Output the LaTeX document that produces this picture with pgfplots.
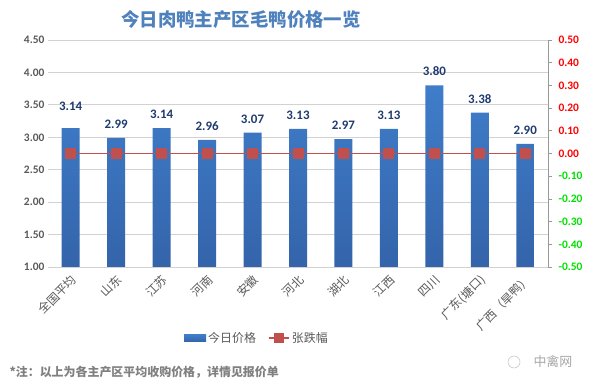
\documentclass[border=0pt]{standalone}
\usepackage{pgfplots}
\usepackage{pgfplotstable}
\pgfplotsset{compat=1.18}
\usepackage{fontspec}
\setmainfont{Carlito}
\newfontfamily\cjk{Noto Sans CJK SC}
\definecolor{barblue}{HTML}{3A72BF}
\definecolor{bartop}{HTML}{3F7DCA}
\definecolor{barbot}{HTML}{3464AA}
\definecolor{linered}{HTML}{C0504D}
\definecolor{titleblue}{HTML}{4F81BD}
\definecolor{lblnavy}{HTML}{1F3B70}
\definecolor{tickgray}{HTML}{595959}
\definecolor{neggreen}{HTML}{00E000}
\pgfplotstableread{
x y dy
0 3.14 14
1 2.99 6
2 3.14 6
3 2.96 6
4 3.07 6
5 3.13 6
6 2.97 6
7 3.13 6
8 3.80 6
9 3.38 6
10 2.90 6
}\prices
\begin{document}
\begin{tikzpicture}
\path[use as bounding box] (0,0) rectangle (590bp,389bp);
% bars + left axis + legend
\begin{axis}[
  at={(48bp,122bp)}, anchor=south west,
  scale only axis, width=500bp, height=227bp,
  xmin=-0.5, xmax=10.5, ymin=1, ymax=4.5,
  ytick={1,1.5,...,4.5},
  xtick={0,...,10},
  xticklabels={全国平均,山东,江苏,河南,安徽,河北,湖北,江西,四川,广东(塘口),广西（旱鸭）},
  xticklabel style={rotate=45, anchor=east, font=\cjk\fontsize{12}{12}\selectfont, text=tickgray, inner sep=1bp, yshift=-7bp, xshift=-1bp},
  yticklabel style={font=\bfseries\fontsize{11.5}{12}\selectfont, text=tickgray, /pgf/number format/fixed, /pgf/number format/fixed zerofill, /pgf/number format/precision=2, /pgf/number format/assume math mode=true},
  ymajorgrids, grid style={draw=gray!35, line width=0.8pt},
  axis line style={draw=none},
  major tick style={draw=none},
  ybar, bar width=18bp,
  nodes near coords,
  visualization depends on={\thisrow{dy} \as \dy},
  every node near coord/.append style={font=\bfseries\fontsize{13}{13}\selectfont, text=lblnavy, /pgf/number format/fixed, /pgf/number format/fixed zerofill, /pgf/number format/precision=2, /pgf/number format/assume math mode=true, yshift=\dy bp},
  legend columns=2,
  legend style={at={(0.418,-0.313)}, anchor=center, draw=none, fill=none, font=\cjk\fontsize{12}{12}\selectfont, text=tickgray, /tikz/every even column/.append style={column sep=10bp}},
  legend cell align=left,
  clip=false,
]
\addplot[top color=bartop, bottom color=barbot, draw=none, legend image code/.code={\fill[barblue] (0bp,-3.5bp) rectangle (22bp,3.5bp);}] table[x=x, y=y] {\prices};
\addlegendentry{今日价格}
\addlegendimage{legend image code/.code={\draw[linered, line width=2pt] (0bp,0bp) -- (20bp,0bp); \fill[linered] (5.5bp,-4.5bp) rectangle (14.5bp,4.5bp);}}
\addlegendentry{张跌幅}
\end{axis}
% line on secondary scale, no text in this axis
\begin{axis}[
  at={(48bp,122bp)}, anchor=south west,
  scale only axis, width=500bp, height=227bp,
  xmin=-0.5, xmax=10.5, ymin=-0.5, ymax=0.5,
  axis lines=none, xtick=\empty, ytick=\empty,
  clip=false,
]
\addplot[color=linered, line width=2pt, sharp plot, mark=square*, mark size=4.5bp, mark options={fill=linered, draw=linered, solid}] coordinates {
(0,0) (1,0) (2,0) (3,0) (4,0) (5,0) (6,0) (7,0) (8,0) (9,0) (10,0)};
\end{axis}
% right axis with coloured labels
\begin{axis}[
  at={(48bp,122bp)}, anchor=south west,
  scale only axis, width=500bp, height=227bp,
  xmin=-0.5, xmax=10.5, ymin=-0.5, ymax=0.5,
  xtick=\empty,
  ytick pos=right, yticklabel pos=right,
  axis line style={draw=none},
  ytick={-0.5,-0.4,-0.3,-0.2,-0.1,0,0.1,0.2,0.3,0.4,0.5},
  yticklabels={\textcolor{neggreen}{-0.50},\textcolor{neggreen}{-0.40},\textcolor{neggreen}{-0.30},\textcolor{neggreen}{-0.20},\textcolor{neggreen}{-0.10},\textcolor{red}{0.00},\textcolor{red}{0.10},\textcolor{red}{0.20},\textcolor{red}{0.30},\textcolor{red}{0.40},\textcolor{red}{0.50}},
  yticklabel style={font=\bfseries\fontsize{11.5}{12}\selectfont, xshift=3bp},
  major tick style={draw=gray!80, line width=0.8pt},
  tick align=outside, major tick length=4bp,
  extra description/.code={\draw[gray!80, line width=0.8pt] (rel axis cs:1,0) -- (rel axis cs:1,1);},
  clip=false,
]
\end{axis}
\node[anchor=center, font=\cjk\bfseries\fontsize{18.5}{19}\selectfont, text=titleblue] at (241bp,369bp) {今日肉鸭主产区毛鸭价格一览};
\node[anchor=west, font=\cjk\bfseries\fontsize{12}{12}\selectfont, text=gray] at (6bp,17bp) {*注：以上为各主产区平均收购价格，详情见报价单};
\node[anchor=west, font=\cjk\fontsize{13}{13}\selectfont, text=gray!70] at (530bp,27bp) {中禽网};
\draw[gray!50, line width=0.5pt] (514bp,27bp) circle (6bp);
\end{tikzpicture}
\end{document}
